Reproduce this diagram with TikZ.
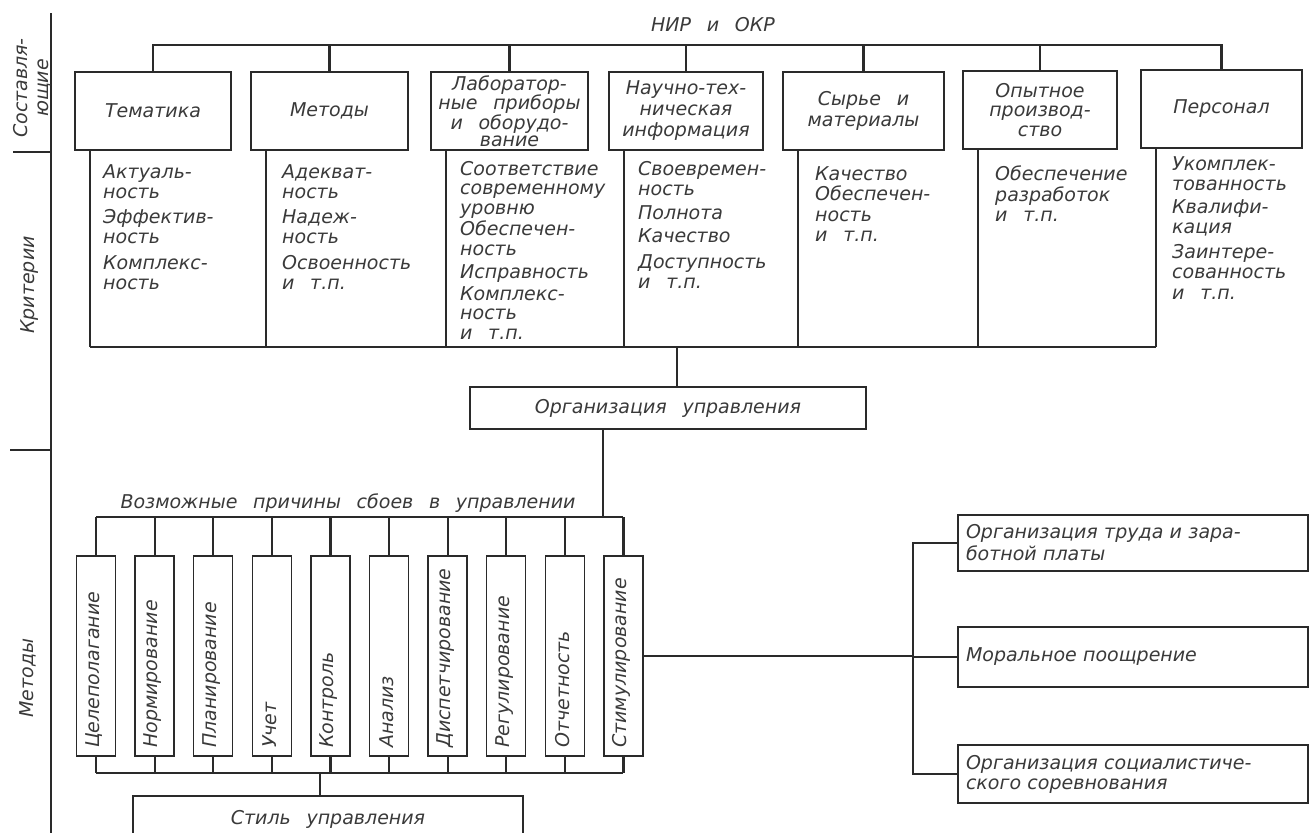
\documentclass[tikz,border=0pt]{standalone}
\usepackage{fontspec}
\setmainfont{DejaVu Sans}[WordSpace=2.6]
\definecolor{ink}{HTML}{2A2A2A}
\definecolor{txt}{HTML}{3A3A3A}
\newcommand\lettering{\fontsize{19}{21}\selectfont\itshape}
\begin{document}
\begin{tikzpicture}[x=1pt,y=-1pt,
  bus/.style={draw=ink, line width=2.2pt},
  box/.style={draw=ink, line width=1.3pt, fill=white, inner sep=2pt,
    align=center, font=\lettering, text=txt},
  vbox/.style={draw=ink, line width=1.3pt, fill=white, minimum width=39pt,
    minimum height=200pt, inner sep=0pt},
  vtext/.style={inner sep=0pt, font=\lettering, text=txt},
  crit/.style={inner sep=0pt, align=left, font=\fontsize{19}{20.5}\selectfont\itshape,
    text=txt, anchor=north west},
  lbl/.style={inner sep=0pt, align=center, font=\lettering, text=txt}]

\useasboundingbox[fill=white] (0,0) rectangle (1310,833);

% side axis with the three row titles
\coordinate (ax0) at (51,13);
\coordinate (ax1) at (51,833);
\draw[bus] (ax0) -- (ax1);
\draw[bus] (13,152) -- (51,152);
\draw[bus] (10,450) -- (51,450);
\node[lbl, rotate=90] (lcomp) at (32,88) {Составля-\\ющие};
\node[lbl, rotate=90] (lcrit) at (30,285) {Критерии};
\node[lbl, rotate=90] (lmeth) at (28,678) {Методы};

% top row: components
\node[lbl] (nir) at (713,25) {НИР и ОКР};
\node[box, minimum width=156pt, minimum height=78pt] (t1) at (153,111) {Тематика};
\node[box, minimum width=157pt, minimum height=78pt] (t2) at (329.5,111) {Методы};
\node[box, minimum width=157pt, minimum height=78pt,
  font=\fontsize{19}{16.5}\selectfont\itshape] (t3) at (509.5,111)
  {Лаборатор-\\ные приборы\\и оборудо-\\вание};
\node[box, minimum width=154pt, minimum height=78pt] (t4) at (686,111)
  {Научно-тех-\\ническая\\информация};
\node[box, minimum width=161pt, minimum height=78pt] (t5) at (863.5,111)
  {Сырье и\\материалы};
\node[box, minimum width=154pt, minimum height=78pt,
  font=\fontsize{19}{19.5}\selectfont\itshape] (t6) at (1040,110)
  {Опытное\\производ-\\ство};
\node[box, minimum width=161pt, minimum height=78pt] (t7) at (1221.5,109) {Персонал};

\coordinate (tb) at (0,45);
\draw[bus] (t1.north) -- (t1.north |- tb) -- (t7.north |- tb) -- (t7.north);
\foreach \i in {2,...,6} \draw[bus] (t\i.north) -- (t\i.north |- tb);

% criteria columns
\coordinate (cb) at (0,347);
\foreach \i in {1,...,7} {
  \coordinate (k\i) at ([xshift=16pt]t\i.south west);
  \draw[bus] (k\i) -- (k\i |- cb);
}
\draw[bus] (k1 |- cb) -- (k7 |- cb);

\node[crit] (c1) at (103,164) {Актуаль-\\ность\\[4pt]Эффектив-\\ность\\[5pt]Комплекс-\\ность};
\node[crit] (c2) at (282,164) {Адекват-\\ность\\[4pt]Надеж-\\ность\\[5pt]Освоенность\\и т.п.};
\node[crit, font=\fontsize{19}{19.5}\selectfont\itshape] (c3) at (460,161)
  {Соответствие\\современному\\уровню\\[2pt]Обеспечен-\\ность\\[4pt]Исправность\\[2pt]Комплекс-\\ность\\и т.п.};
\node[crit] (c4) at (638,161) {Своевремен-\\ность\\[3pt]Полнота\\[3pt]Качество\\[5pt]Доступность\\и т.п.};
\node[crit] (c5) at (815,166) {Качество\\Обеспечен-\\ность\\и т.п.};
\node[crit] (c6) at (995,166) {Обеспечение\\разработок\\и т.п.};
\node[crit] (c7) at (1172,156) {Укомплек-\\тованность\\[2pt]Квалифи-\\кация\\[4pt]Заинтере-\\сованность\\и т.п.};

% management organisation
\node[box, minimum width=396pt, minimum height=42pt] (org) at (668,408) {Организация управления};
\coordinate (cj) at (677,347);
\draw[bus] (cj) -- (cj |- org.north);

% possible causes of failures
\node[lbl] (causes) at (348,503) {Возможные причины сбоев в управлении};
\coordinate (mj) at (603,517);
\draw[bus] (mj |- org.south) -- (mj);

\coordinate (mt) at (0,517);
\coordinate (mb) at (0,773);
\foreach \t [count=\i] in {Целеполагание,Нормирование,Планирование,Учет,Контроль,
    Анализ,Диспетчирование,Регулирование,Отчетность,Стимулирование} {
  \node[vbox] (m\i) at ({96+58.6*(\i-1)},656) {};
  \node[vtext, rotate=90, anchor=west] (mt\i) at ({94+58.6*(\i-1)},748) {\t};
  \draw[bus] (m\i.north) -- (m\i.north |- mt);
  \draw[bus] (m\i.south) -- (m\i.south |- mb);
}
\draw[bus] (m1.north |- mt) -- (m10.north |- mt);
\draw[bus] (m1.south |- mb) -- (m10.south |- mb);

% management style
\node[box, minimum width=390pt, minimum height=46pt] (style) at (328,819) {Стиль управления};
\coordinate (sj) at (320,773);
\draw[bus] (sj) -- (sj |- style.north);

% incentive branches
\node[box, minimum width=350pt, minimum height=56pt, text width=334pt, align=left,
  font=\fontsize{19}{22}\selectfont\itshape] (r1) at (1133,543)
  {Организация труда и зара-\\ботной платы};
\node[box, minimum width=350pt, minimum height=60pt, text width=334pt, align=left] (r2)
  at (1133,657) {Моральное поощрение};
\node[box, minimum width=350pt, minimum height=58pt, text width=334pt, align=left,
  font=\fontsize{19}{20}\selectfont\itshape] (r3) at (1133,774)
  {Организация социалистиче-\\ского соревнования};

\coordinate (rj) at (913,656);
\draw[bus] (m10.east) -- (rj);
\draw[bus] (r1.west) -- (r1.west -| rj) -- (r3.west -| rj) -- (r3.west);
\draw[bus] (r2.west) -- (r2.west -| rj);
\end{tikzpicture}
\end{document}
